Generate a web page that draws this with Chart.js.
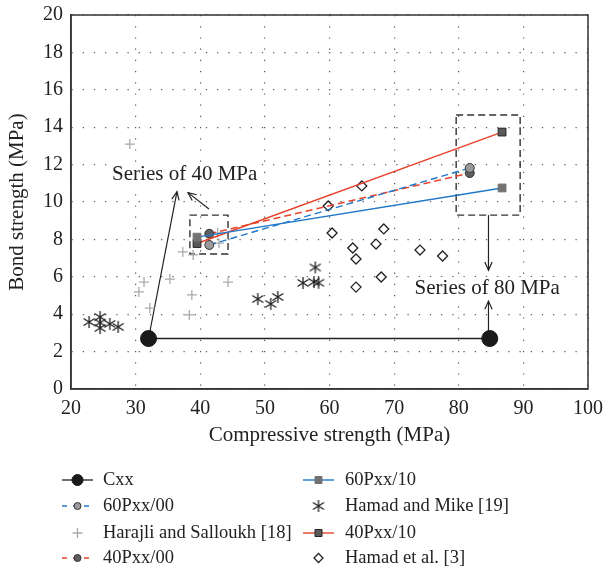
<!DOCTYPE html>
<html>
<head>
<meta charset="utf-8">
<script src="https://cdn.jsdelivr.net/npm/chart.js@4.4.1/dist/chart.umd.min.js"></script>
<style>
  html, body { margin: 0; padding: 0; background: #fff; }
</style>
</head>
<body>
<canvas id="bond-chart" width="603" height="569"></canvas>
<script>
// --- data ---
const cxxX = [32, 84.8];
const cxxY = [2.7, 2.7];

const p60_00X = [41.4, 81.7];
const p60_00Y = [7.7, 11.82];

const p40_00X = [41.4, 81.7];
const p40_00Y = [8.3, 11.55];

const p60_10X = [39.5, 86.7];
const p60_10Y = [8.12, 10.75];

const p40_10X = [39.5, 86.7];
const p40_10Y = [7.78, 13.74];

const harajliX = [29.1, 30.5, 31.3, 32.2, 35.3, 37.3, 38.9, 38.7, 38.3, 44.3, 42.9, 42.7];
const harajliY = [13.1, 5.19, 5.72, 4.33, 5.88, 7.33, 7.17, 5.03, 3.96, 5.72, 7.8, 8.35];

const mikeX = [22.8, 24.5, 24.5, 24.5, 26.0, 27.3, 48.9, 50.9, 52.0, 55.9, 57.8, 57.6, 58.3];
const mikeY = [3.58, 3.85, 3.26, 3.55, 3.48, 3.32, 4.81, 4.55, 4.92, 5.67, 6.5, 5.72, 5.68];

const hamadX = [59.8, 60.4, 63.6, 64.1, 67.2, 68.4, 68.0, 64.1, 74.0, 77.5, 65.0];
const hamadY = [9.79, 8.34, 7.54, 6.95, 7.75, 8.56, 5.99, 5.45, 7.43, 7.11, 10.86];

const xTicks = [20, 30, 40, 50, 60, 70, 80, 90, 100];
const yTicks = [0, 2, 4, 6, 8, 10, 12, 14, 16, 18, 20];

// annotations (data units)
const noteBoxes = [[38.4, 44.3, 7.22, 9.3], [79.6, 89.5, 9.3, 14.65]];
const noteArrows = [
  [32, 2.7, 36.4, 10.55],
  [41.35, 9.63, 38.1, 10.5],
  [84.6, 9.3, 84.6, 6.35],
  [84.6, 2.75, 84.6, 4.7]
];
const noteTexts = [['Series of 40 MPa', 37.6, 11.45], ['Series of 80 MPa', 84.4, 5.4]];

const legendCol1 = ['Cxx', '60Pxx/00', 'Harajli and Salloukh [18]', '40Pxx/00'];
const legendCol2 = ['60Pxx/10', 'Hamad and Mike [19]', '40Pxx/10', 'Hamad et al. [3]'];

const FONT = '"Liberation Serif", "DejaVu Serif", serif';
const BLUE = '#1f78c8';
const RED = '#e8432a';

function toPoints(xs, ys) {
  return xs.map(function (x, i) { return { x: x, y: ys[i] }; });
}

function asteriskImg() {
  const c = document.createElement('canvas');
  c.width = 14; c.height = 14;
  const g = c.getContext('2d');
  g.strokeStyle = '#222';
  g.lineWidth = 1.3;
  g.beginPath();
  g.moveTo(7, 1); g.lineTo(7, 13);
  g.moveTo(1.5, 3.5); g.lineTo(12.5, 10.5);
  g.moveTo(12.5, 3.5); g.lineTo(1.5, 10.5);
  g.stroke();
  return c;
}
const asterisk = asteriskImg();

const datasets = [
  { label: 'Cxx', data: toPoints(cxxX, cxxY), showLine: true, borderColor: '#222', borderWidth: 1.3,
    pointStyle: 'circle', pointRadius: 8, pointBackgroundColor: '#1a1a1a', pointBorderColor: '#1a1a1a', pointBorderWidth: 1, legendR: 5.5 },
  { label: '60Pxx/10', data: toPoints(p60_10X, p60_10Y), showLine: true, borderColor: BLUE, borderWidth: 1.4,
    pointStyle: 'rect', pointRadius: 5.5, pointBackgroundColor: '#727272', pointBorderColor: '#727272', pointBorderWidth: 1, legendR: 3.5 },
  { label: '40Pxx/10', data: toPoints(p40_10X, p40_10Y), showLine: true, borderColor: RED, borderWidth: 1.4,
    pointStyle: 'rect', pointRadius: 5.5, pointBackgroundColor: '#5a5a5a', pointBorderColor: '#222', pointBorderWidth: 1, legendR: 3.5 },
  { label: '60Pxx/00', data: toPoints(p60_00X, p60_00Y), showLine: true, borderColor: BLUE, borderWidth: 1.4, borderDash: [7, 4],
    pointStyle: 'circle', pointRadius: 4.5, pointBackgroundColor: '#9a9a9a', pointBorderColor: '#333', pointBorderWidth: 1, legendR: 3.5 },
  { label: '40Pxx/00', data: toPoints(p40_00X, p40_00Y), showLine: true, borderColor: RED, borderWidth: 1.4, borderDash: [7, 4],
    pointStyle: 'circle', pointRadius: 4.5, pointBackgroundColor: '#5e5e5e', pointBorderColor: '#333', pointBorderWidth: 1, legendR: 3.5 },
  { label: 'Harajli and Salloukh [18]', data: toPoints(harajliX, harajliY), showLine: false,
    pointStyle: 'cross', pointRadius: 5, pointBackgroundColor: '#aaa', pointBorderColor: '#aaa', pointBorderWidth: 1.3, legendR: 5 },
  { label: 'Hamad and Mike [19]', data: toPoints(mikeX, mikeY), showLine: false,
    pointStyle: asterisk, pointRadius: 7, legendR: 7 },
  { label: 'Hamad et al. [3]', data: toPoints(hamadX, hamadY), showLine: false,
    pointStyle: 'rectRot', pointRadius: 5, pointBackgroundColor: '#fff', pointBorderColor: '#222', pointBorderWidth: 1.3, legendR: 4.5 }
];

function drawMarker(ctx, ds, x, y, r) {
  const st = ds.pointStyle;
  if (st instanceof HTMLCanvasElement) {
    ctx.drawImage(st, x - st.width / 2, y - st.height / 2);
    return;
  }
  ctx.save();
  ctx.setLineDash([]);
  ctx.fillStyle = ds.pointBackgroundColor;
  ctx.strokeStyle = ds.pointBorderColor;
  ctx.lineWidth = ds.pointBorderWidth;
  ctx.beginPath();
  if (st === 'circle') {
    ctx.arc(x, y, r, 0, Math.PI * 2);
  } else if (st === 'rect') {
    ctx.rect(x - r, y - r, 2 * r, 2 * r);
  } else if (st === 'rectRot') {
    ctx.moveTo(x, y - r); ctx.lineTo(x + r, y); ctx.lineTo(x, y + r); ctx.lineTo(x - r, y); ctx.closePath();
  } else if (st === 'cross') {
    ctx.moveTo(x, y - r); ctx.lineTo(x, y + r); ctx.moveTo(x - r, y); ctx.lineTo(x + r, y);
  }
  if (st !== 'cross') ctx.fill();
  ctx.stroke();
  ctx.restore();
}

function arrowHead(ctx, x0, y0, x1, y1) {
  const a = Math.atan2(y1 - y0, x1 - x0);
  const len = 9, spread = 0.42;
  ctx.beginPath();
  ctx.moveTo(x1 - len * Math.cos(a - spread), y1 - len * Math.sin(a - spread));
  ctx.lineTo(x1, y1);
  ctx.lineTo(x1 - len * Math.cos(a + spread), y1 - len * Math.sin(a + spread));
  ctx.stroke();
}

const extrasPlugin = {
  id: 'extras',
  beforeDatasetsDraw: function (chart) {
    const ctx = chart.ctx;
    const xs = chart.scales.x, ys = chart.scales.y;
    const area = chart.chartArea;
    ctx.save();
    // frame
    ctx.strokeStyle = '#333';
    ctx.lineWidth = 1.5;
    ctx.strokeRect(area.left, area.top, area.right - area.left, area.bottom - area.top);
    // dashed boxes
    ctx.setLineDash([7, 4]);
    ctx.lineWidth = 1.4;
    ctx.strokeStyle = '#333';
    noteBoxes.forEach(function (b) {
      const l = xs.getPixelForValue(b[0]), r = xs.getPixelForValue(b[1]);
      const t = ys.getPixelForValue(b[3]), btm = ys.getPixelForValue(b[2]);
      ctx.strokeRect(l, t, r - l, btm - t);
    });
    ctx.setLineDash([]);
    // arrows
    ctx.strokeStyle = '#222';
    ctx.lineWidth = 1.2;
    noteArrows.forEach(function (a) {
      const x0 = xs.getPixelForValue(a[0]), y0 = ys.getPixelForValue(a[1]);
      const x1 = xs.getPixelForValue(a[2]), y1 = ys.getPixelForValue(a[3]);
      ctx.beginPath(); ctx.moveTo(x0, y0); ctx.lineTo(x1, y1); ctx.stroke();
      arrowHead(ctx, x0, y0, x1, y1);
    });
    // texts
    ctx.font = '21px ' + FONT;
    ctx.textAlign = 'center';
    ctx.textBaseline = 'middle';
    noteTexts.forEach(function (t) {
      const x = xs.getPixelForValue(t[1]), y = ys.getPixelForValue(t[2]);
      ctx.fillStyle = '#fff';
      const w = ctx.measureText(t[0]).width;
      ctx.fillRect(x - w / 2 - 2, y - 11, w + 4, 22);
      ctx.fillStyle = '#222';
      ctx.fillText(t[0], x, y);
    });
    ctx.restore();
  },
  afterDraw: function (chart) {
    const ctx = chart.ctx;
    const rowsY = [480, 506, 533, 558];
    const cols = [[legendCol1, 62, 103], [legendCol2, 303, 345]];
    ctx.save();
    ctx.font = '18.5px ' + FONT;
    ctx.textBaseline = 'middle';
    ctx.textAlign = 'left';
    cols.forEach(function (col) {
      col[0].forEach(function (name, i) {
        const ds = chart.data.datasets.find(function (d) { return d.label === name; });
        const y = rowsY[i];
        const x0 = col[1];
        if (ds.showLine) {
          ctx.strokeStyle = ds.borderColor;
          ctx.lineWidth = ds.borderWidth;
          ctx.setLineDash(ds.borderDash ? [5, 6] : []);
          ctx.beginPath(); ctx.moveTo(x0, y); ctx.lineTo(x0 + 31, y); ctx.stroke();
          ctx.setLineDash([]);
        }
        drawMarker(ctx, ds, x0 + 15.5, y, ds.legendR);
        ctx.fillStyle = '#222';
        ctx.fillText(name, col[2], y);
      });
    });
    ctx.restore();
  }
};

new Chart(document.getElementById('bond-chart').getContext('2d'), {
  type: 'scatter',
  data: { datasets: datasets },
  options: {
    responsive: false,
    animation: false,
    layout: { padding: { top: 15, right: 15, bottom: 120, left: 0 } },
    plugins: { legend: { display: false }, tooltip: { enabled: false } },
    scales: {
      x: {
        type: 'linear', min: 20, max: 100,
        afterBuildTicks: function (s) { s.ticks = xTicks.map(function (v) { return { value: v }; }); },
        afterFit: function (s) { s.height = 60; s.paddingLeft = 0; s.paddingRight = 0; },
        grid: { color: '#555', lineWidth: 1.2, drawTicks: false },
        border: { display: true, color: '#333', width: 1.5, dash: [1.2, 10] },
        ticks: { padding: 8, color: '#222', font: { family: FONT, size: 20 } },
        title: { display: true, text: 'Compressive strength (MPa)', color: '#222', font: { family: FONT, size: 21 }, padding: { top: 4, bottom: 1 } }
      },
      y: {
        type: 'linear', min: 0, max: 20,
        afterBuildTicks: function (s) { s.ticks = yTicks.map(function (v) { return { value: v }; }); },
        afterFit: function (s) { s.width = 71; s.paddingTop = 0; s.paddingBottom = 0; },
        grid: { color: '#555', lineWidth: 1.2, drawTicks: false },
        border: { display: true, color: '#333', width: 1.5, dash: [1.2, 10] },
        ticks: { padding: 8, color: '#222', font: { family: FONT, size: 20 } },
        title: { display: true, text: 'Bond strength (MPa)', color: '#222', font: { family: FONT, size: 21 }, padding: { top: 5, bottom: 2 } }
      }
    }
  },
  plugins: [extrasPlugin]
});
</script>
</body>
</html>
